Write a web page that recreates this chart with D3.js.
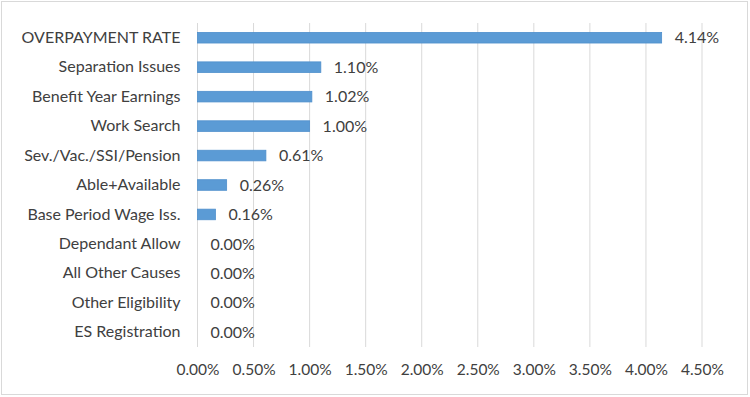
<!DOCTYPE html>
<html>
<head>
<meta charset="utf-8">
<script src="https://cdn.jsdelivr.net/npm/d3@7"></script>
<style>
  body { margin: 0; background: #fff; }
  text { font-family: Lato, "Open Sans", sans-serif; fill: #404040; }
</style>
</head>
<body>
<div id="chart"></div>
<script>
const categories = ['OVERPAYMENT RATE', 'Separation Issues', 'Benefit Year Earnings', 'Work Search',
  'Sev./Vac./SSI/Pension', 'Able+Available', 'Base Period Wage Iss.', 'Dependant Allow',
  'All Other Causes', 'Other Eligibility', 'ES Registration'];
const values = [4.14, 1.10, 1.02, 1.00, 0.61, 0.26, 0.16, 0.00, 0.00, 0.00, 0.00];
const xTicks = [0, 0.5, 1, 1.5, 2, 2.5, 3, 3.5, 4, 4.5];

const width = 750, height = 397;
const margin = { top: 23, right: 48, bottom: 50, left: 197.5 };
const innerW = width - margin.left - margin.right;
const innerH = height - margin.top - margin.bottom;

const data = categories.map((c, i) => ({ cat: c, value: values[i] }));

const svg = d3.select('#chart').append('svg')
  .attr('width', width)
  .attr('height', height);

svg.append('rect')
  .attr('x', 1.5).attr('y', 1.5)
  .attr('width', width - 4).attr('height', height - 4)
  .attr('fill', '#fff')
  .attr('stroke', '#d9d9d9');

const chart = svg.append('g')
  .attr('transform', `translate(${margin.left},${margin.top})`);

const xScale = d3.scaleLinear().domain([0, 4.5]).range([0, innerW]);
const yScale = d3.scaleBand().domain(categories).range([0, innerH]).paddingInner(0.64).paddingOuter(0.32);

// gridlines
chart.append('g')
  .selectAll('line')
  .data(xTicks)
  .join('line')
  .attr('x1', d => xScale(d)).attr('x2', d => xScale(d))
  .attr('y1', 0).attr('y2', innerH)
  .attr('stroke', '#d9d9d9')
  .attr('stroke-width', 1);

// x tick labels
const xAxis = chart.append('g')
  .attr('transform', `translate(0,${innerH})`)
  .call(d3.axisBottom(xScale).tickValues(xTicks).tickFormat(d => d.toFixed(2) + '%').tickSize(0).tickPadding(17));
xAxis.select('.domain').remove();
xAxis.selectAll('text').style('font-size', '15.5px').attr('fill', '#595959').style('font-family', 'Lato, sans-serif');

// y labels
const yAxis = chart.append('g')
  .call(d3.axisLeft(yScale).tickSize(0).tickPadding(17));
yAxis.select('.domain').remove();
yAxis.selectAll('text').style('font-size', '16px').attr('fill', '#404040').style('font-family', 'Lato, sans-serif');

// bars
chart.selectAll('.bar')
  .data(data)
  .join('rect')
  .attr('class', 'bar')
  .attr('x', 0)
  .attr('y', d => yScale(d.cat))
  .attr('width', d => xScale(d.value))
  .attr('height', yScale.bandwidth())
  .attr('fill', '#5b9bd5')
  .attr('stroke', d => d.value > 0 ? '#4f8fcc' : 'none')
  .attr('stroke-width', 0.8);

// value labels
chart.selectAll('.label')
  .data(data)
  .join('text')
  .attr('class', 'label')
  .attr('x', d => xScale(d.value) + 13)
  .attr('y', d => yScale(d.cat) + yScale.bandwidth() / 2)
  .attr('dy', '0.35em')
  .style('font-size', '16px')
  .text(d => d.value.toFixed(2) + '%');
</script>
</body>
</html>
